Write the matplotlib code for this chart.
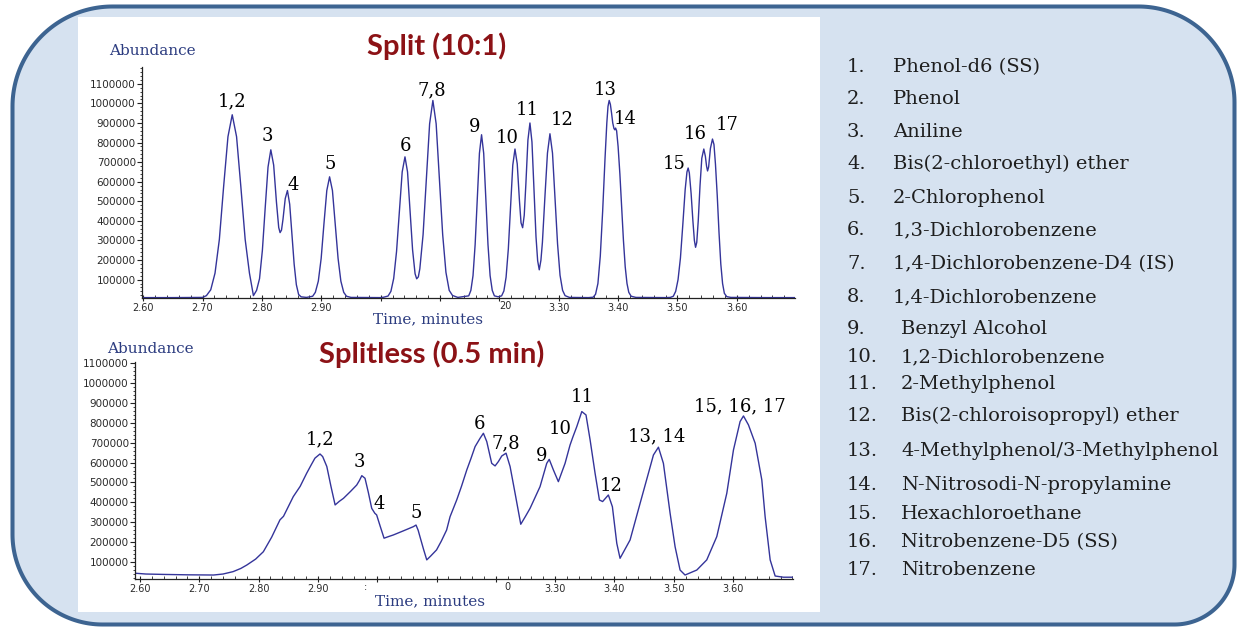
import numpy as np
import matplotlib
matplotlib.use("Agg")
import matplotlib.pyplot as plt
from matplotlib.patches import Polygon, Rectangle
from matplotlib.ticker import MultipleLocator, FixedLocator, FixedFormatter

# ---------------- data ----------------
split_time = [
    2.598, 2.650, 2.700, 2.7065, 2.7138, 2.721, 2.7283, 2.7355, 2.7428, 2.750,
    2.7573, 2.7645, 2.7718, 2.779, 2.7857, 2.791, 2.796, 2.8008, 2.8055, 2.8103,
    2.815, 2.8198, 2.8245, 2.8283, 2.8306, 2.833, 2.8355, 2.8393, 2.843, 2.8468,
    2.8505, 2.8543, 2.858, 2.8618, 2.866, 2.875, 2.8855, 2.890, 2.895, 2.8998,
    2.9045, 2.9093, 2.914, 2.9188, 2.9235, 2.9283, 2.933, 2.9378, 2.9425, 2.950,
    3.000, 3.005, 3.0125, 3.0173, 3.022, 3.0268, 3.0315, 3.0363, 3.041, 3.0453,
    3.0495, 3.0538, 3.058, 3.0607, 3.0635, 3.066, 3.0715, 3.077, 3.0825, 3.088,
    3.0935, 3.099, 3.1045, 3.110, 3.1155, 3.121, 3.130, 3.1484, 3.152, 3.1556,
    3.1592, 3.1628, 3.1664, 3.170, 3.1736, 3.1772, 3.1808, 3.1844, 3.188, 3.1916,
    3.198, 3.2038, 3.2076, 3.2113, 3.2151, 3.2188, 3.2226, 3.2263, 3.2301, 3.2338,
    3.2365, 3.2392, 3.2419, 3.2447, 3.2481, 3.2515, 3.2549, 3.2583, 3.2617, 3.2645,
    3.2672, 3.270, 3.2725, 3.2767, 3.281, 3.2852, 3.2895, 3.2937, 3.298, 3.3022,
    3.3065, 3.3107, 3.318, 3.350, 3.358, 3.362, 3.366, 3.370, 3.374, 3.378,
    3.381, 3.383, 3.385, 3.387, 3.389, 3.391, 3.393, 3.3945, 3.3958, 3.3975,
    3.400, 3.403, 3.406, 3.409, 3.412, 3.415, 3.418, 3.422, 3.430, 3.480,
    3.488, 3.493, 3.497, 3.501, 3.505, 3.509, 3.513, 3.516, 3.518, 3.520,
    3.523, 3.526, 3.5285, 3.5305, 3.5325, 3.535, 3.538, 3.541, 3.5444, 3.547,
    3.549, 3.5507, 3.5525, 3.5555, 3.559, 3.5615, 3.564, 3.567, 3.570, 3.573,
    3.576, 3.579, 3.583, 3.590, 3.650, 3.698,
]
split_abundance_k = [
    8, 8, 9, 18, 48, 133, 305, 575, 830, 942,
    830, 575, 305, 133, 18, 45, 105, 250, 465, 675,
    763, 685, 495, 366, 340, 353, 408, 514, 555, 485,
    334, 179, 74, 24, 12, 9, 15, 35, 92, 208,
    385, 555, 625, 555, 385, 208, 92, 35, 15, 9,
    8, 10, 16, 40, 106, 244, 448, 650, 727, 650,
    452, 252, 130, 104, 114, 155, 330, 616, 896, 1015,
    896, 616, 330, 137, 45, 19, 9, 17, 45, 120,
    280, 515, 745, 840, 745, 515, 280, 120, 45, 17,
    12, 17, 42, 112, 257, 473, 685, 767, 691, 504,
    390, 365, 429, 592, 813, 900, 803, 560, 319, 196,
    150, 199, 290, 521, 746, 845, 746, 513, 283, 122,
    45, 18, 9, 8, 10, 25, 80, 220, 450, 720,
    900, 985, 1015, 995, 950, 900, 872, 865, 874, 860,
    780, 640, 470, 300, 165, 80, 35, 15, 9, 8,
    9, 15, 40, 100, 210, 380, 560, 650, 670, 645,
    540, 400, 300, 265, 290, 400, 580, 720, 767, 730,
    680, 655, 675, 770, 818, 790, 690, 530, 340, 180,
    80, 30, 13, 9, 8, 8,
]

splitless_time = [
    2.592, 2.610, 2.640, 2.680, 2.724, 2.740, 2.757, 2.770, 2.780, 2.795,
    2.808, 2.822, 2.836, 2.842, 2.8585, 2.870, 2.881, 2.889, 2.895, 2.9035,
    2.908, 2.915, 2.922, 2.929, 2.936, 2.943, 2.955, 2.9654, 2.970, 2.974,
    2.9794, 2.985, 2.9907, 2.996, 2.999, 3.005, 3.0115, 3.019, 3.027, 3.045,
    3.061, 3.0654, 3.069, 3.072, 3.078, 3.0835, 3.090, 3.100, 3.108, 3.117,
    3.1228, 3.134, 3.142, 3.151, 3.158, 3.165, 3.1734, 3.179, 3.1847, 3.193,
    3.1987, 3.2043, 3.210, 3.2172, 3.224, 3.2324, 3.242, 3.250, 3.2577, 3.2745,
    3.2858, 3.290, 3.297, 3.3054, 3.3167, 3.3251, 3.3297, 3.3364, 3.3449, 3.352,
    3.3589, 3.3673, 3.3746, 3.380, 3.3897, 3.3965, 3.4039, 3.4094, 3.4263, 3.4432,
    3.4572, 3.4657, 3.4741, 3.4825, 3.4938, 3.5022, 3.5106, 3.519, 3.5388, 3.5556,
    3.5725, 3.5894, 3.6006, 3.6118, 3.6175, 3.6259, 3.6372, 3.6484, 3.654, 3.6625,
    3.6709, 3.6848, 3.701,
]
splitless_abundance_k = [
    44, 40, 38, 36, 35, 40, 52, 68, 85, 115,
    152, 225, 312, 330, 429, 480, 546, 590, 622, 643,
    630, 580, 480, 387, 405, 420, 455, 487, 510, 534,
    521, 450, 370, 345, 337, 280, 220, 228, 236, 258,
    278, 286, 260, 228, 165, 111, 130, 161, 205, 261,
    328, 412, 480, 563, 620, 680, 722, 747, 705, 596,
    583, 605, 633, 647, 580, 446, 290, 330, 370, 479,
    596, 616, 563, 504, 596, 688, 727, 780, 856, 839,
    714, 546, 412, 404, 437, 378, 194, 119, 211, 395,
    546, 638, 677, 596, 345, 177, 60, 35, 60, 111,
    228, 446, 663, 806, 834, 789, 697, 513, 328, 111,
    30, 24, 24,
]

split_peak_labels = ["1,2", "3", "4", "5", "6", "7,8", "9", "10", "11", "12",
                     "13", "14", "15", "16", "17"]
split_label_time = [2.7503, 2.8093, 2.853, 2.9148, 3.0423, 3.086, 3.1589, 3.2133,
                    3.247, 3.3059, 3.379, 3.4126, 3.4939, 3.5305, 3.5837]
split_label_abund_k = [1013, 831, 581, 692, 780, 1066, 879, 823, 967, 913,
                       1069, 920, 690, 845, 891]

splitless_peak_labels = ["1,2", "3", "4", "5", "6", "7,8", "9", "10", "11", "12",
                         "13, 14", "15, 16, 17"]
splitless_label_time = [2.9035, 2.9693, 3.003, 3.0654, 3.1717, 3.2172, 3.2774,
                        3.3083, 3.3449, 3.3938, 3.4713, 3.6106]
splitless_label_abund_k = [714, 603, 392, 347, 794, 698, 633, 769, 930, 482, 729, 884]

compound_numbers = ["1.", "2.", "3.", "4.", "5.", "6.", "7.", "8.", "9.", "10.",
                    "11.", "12.", "13.", "14.", "15.", "16.", "17."]
compound_names = [
    "Phenol-d6 (SS)", "Phenol", "Aniline", "Bis(2-chloroethyl) ether",
    "2-Chlorophenol", "1,3-Dichlorobenzene", "1,4-Dichlorobenzene-D4 (IS)",
    "1,4-Dichlorobenzene", "Benzyl Alcohol", "1,2-Dichlorobenzene",
    "2-Methylphenol", "Bis(2-chloroisopropyl) ether",
    "4-Methylphenol/3-Methylphenol", "N-Nitrosodi-N-propylamine",
    "Hexachloroethane", "Nitrobenzene-D5 (SS)", "Nitrobenzene",
]

x_tick_values = [2.60, 2.70, 2.80, 2.90, 3.00, 3.10, 3.20, 3.30, 3.40, 3.50, 3.60]
split_x_tick_labels = ["2.60", "2.70", "2.80", "2.90", "", "", "", "3.30", "3.40", "3.50", "3.60"]
splitless_x_tick_labels = ["2.60", "2.70", "2.80", "2.90", "", "", "", "3.30", "3.40", "3.50", "3.60"]
y_tick_values = [100000, 200000, 300000, 400000, 500000, 600000,
                 700000, 800000, 900000, 1000000, 1100000]
y_tick_labels = ["100000", "200000", "300000", "400000", "500000", "600000",
                 "700000", "800000", "900000", "1000000", "1100000"]

split_title = "Split (10:1)"
splitless_title = "Splitless (0.5 min)"
y_label_text = "Abundance"
x_label_text = "Time, minutes"

# ---------------- layout / style ----------------
W, H = 1238, 629
LINE_COLOR = "#34349a"
TITLE_COLOR = "#8c1216"
AXLABEL_COLOR = "#2c3c80"
BORDER_COLOR = "#3d6491"
FILL_COLOR = "#d6e2f0"
SERIF = ["DejaVu Serif"]
TICK_FONT = ["DejaVu Sans"]

fig = plt.figure(figsize=(W / 100, H / 100), dpi=100)
fig.patch.set_facecolor("white")

bg = fig.add_axes([0, 0, 1, 1], zorder=0)
bg.set_xlim(0, W)
bg.set_ylim(H, 0)
bg.axis("off")


def rounded_outline(x0, y0, x1, y1, r_tl, r_tr, r_br, r_bl, n=60):
    def arc(cx, cy, r, a0, a1):
        a = np.linspace(a0, a1, n)
        return np.column_stack([cx + r * np.cos(a), cy + r * np.sin(a)])
    return np.vstack([
        arc(x1 - r_tr, y0 + r_tr, r_tr, -np.pi / 2, 0),
        arc(x1 - r_br, y1 - r_br, r_br, 0, np.pi / 2),
        arc(x0 + r_bl, y1 - r_bl, r_bl, np.pi / 2, np.pi),
        arc(x0 + r_tl, y0 + r_tl, r_tl, np.pi, 1.5 * np.pi),
    ])


bg.add_patch(Polygon(rounded_outline(12.5, 6.5, 1234.5, 624.5, 100, 96, 60, 90),
                     closed=True, facecolor=FILL_COLOR, edgecolor=BORDER_COLOR,
                     linewidth=2.9, joinstyle="round"))
bg.add_patch(Rectangle((78, 17), 742, 595, facecolor="white", edgecolor="none"))

# titles and axis captions
bg.text(437, 55, split_title, ha="center", va="baseline", fontsize=21,
        fontweight="bold", color=TITLE_COLOR, family=["Lato", "DejaVu Sans"])
bg.text(432, 363, splitless_title, ha="center", va="baseline", fontsize=21,
        fontweight="bold", color=TITLE_COLOR, family=["Lato", "DejaVu Sans"])
bg.text(152, 55, y_label_text, ha="center", va="baseline", fontsize=11,
        color=AXLABEL_COLOR, family=SERIF)
bg.text(150, 353, y_label_text, ha="center", va="baseline", fontsize=11,
        color=AXLABEL_COLOR, family=SERIF)
bg.text(428, 323, x_label_text, ha="center", va="baseline", fontsize=11,
        color=AXLABEL_COLOR, family=SERIF)
bg.text(430, 605, x_label_text, ha="center", va="baseline", fontsize=11,
        color=AXLABEL_COLOR, family=SERIF)

# compound list
row_centers = [65, 96.7, 130, 162.3, 195.7, 228.3, 261.7, 295, 326.7, 355,
               382.3, 414, 449.3, 483.3, 511.7, 540, 568.3]
for i, (num, name) in enumerate(zip(compound_numbers, compound_names)):
    yb = row_centers[i] + 7
    name_x = 893 if i < 8 else 901
    bg.text(847, yb, num, ha="left", va="baseline", fontsize=14,
            color="#1e1e1e", family=SERIF)
    bg.text(name_x, yb, name, ha="left", va="baseline", fontsize=14,
            color="#1e1e1e", family=SERIF)


def px_axes(left, top, right, bottom):
    return [left / W, 1 - bottom / H, (right - left) / W, (bottom - top) / H]


def style_axes(ax, xlim, ylim, xlabels):
    ax.set_facecolor("none")
    ax.set_xlim(*xlim)
    ax.set_ylim(*ylim)
    for s in ("top", "right"):
        ax.spines[s].set_visible(False)
    for s in ("left", "bottom"):
        ax.spines[s].set_linewidth(0.9)
        ax.spines[s].set_color("#222222")
    ax.xaxis.set_major_locator(FixedLocator(x_tick_values))
    ax.xaxis.set_major_formatter(FixedFormatter(xlabels))
    ax.xaxis.set_minor_locator(MultipleLocator(0.02))
    ax.yaxis.set_major_locator(FixedLocator(y_tick_values))
    ax.yaxis.set_major_formatter(FixedFormatter(y_tick_labels))
    ax.yaxis.set_minor_locator(MultipleLocator(20000))
    ax.tick_params(axis="x", which="major", direction="inout", length=5, width=0.8,
                   pad=1, labelsize=7, labelcolor="#2a2a2a", color="#222222")
    ax.tick_params(axis="x", which="minor", direction="in", length=2.5, width=0.6,
                   color="#222222")
    ax.tick_params(axis="y", which="major", direction="out", length=3.5, width=0.8,
                   pad=1, labelsize=7.5, labelcolor="#2a2a2a", color="#222222")
    ax.tick_params(axis="y", which="minor", direction="out", length=1.5, width=0.6,
                   color="#222222")
    for lab in ax.get_xticklabels() + ax.get_yticklabels():
        lab.set_family(TICK_FONT)


# ---- split chromatogram ----
ax1 = fig.add_axes(px_axes(142, 67, 795, 298), zorder=2)
style_axes(ax1, (2.598, 3.698), (6000, 1186000), split_x_tick_labels)
ax1.plot(split_time, np.array(split_abundance_k) * 1000, color=LINE_COLOR, lw=1.0)
for lab, t, a in zip(split_peak_labels, split_label_time, split_label_abund_k):
    ax1.text(t, a * 1000, lab, ha="center", va="center", fontsize=13,
             color="black", family=SERIF)
ax1.annotate("20", xy=(3.20, 0), xycoords=("data", "axes fraction"),
             xytext=(0, -2), textcoords="offset points", ha="left", va="top",
             fontsize=7, color="#2a2a2a", family=TICK_FONT, annotation_clip=False)

# ---- splitless chromatogram ----
ax2 = fig.add_axes(px_axes(135, 362, 793, 579), zorder=2)
style_axes(ax2, (2.5916, 3.701), (15000, 1105000), splitless_x_tick_labels)
ax2.plot(splitless_time, np.array(splitless_abundance_k) * 1000, color=LINE_COLOR, lw=1.0)
for lab, t, a in zip(splitless_peak_labels, splitless_label_time, splitless_label_abund_k):
    ax2.text(t, a * 1000, lab, ha="center", va="center", fontsize=13,
             color="black", family=SERIF)
ax2.annotate("0", xy=(3.215, 0), xycoords=("data", "axes fraction"),
             xytext=(0, -2), textcoords="offset points", ha="left", va="top",
             fontsize=7, color="#2a2a2a", family=TICK_FONT, annotation_clip=False)
ax2.annotate(":", xy=(2.9794, 0), xycoords=("data", "axes fraction"),
             xytext=(0, -2), textcoords="offset points", ha="center", va="top",
             fontsize=7, color="#2a2a2a", family=TICK_FONT, annotation_clip=False)

fig.savefig("out.png", dpi=100, facecolor="white")
